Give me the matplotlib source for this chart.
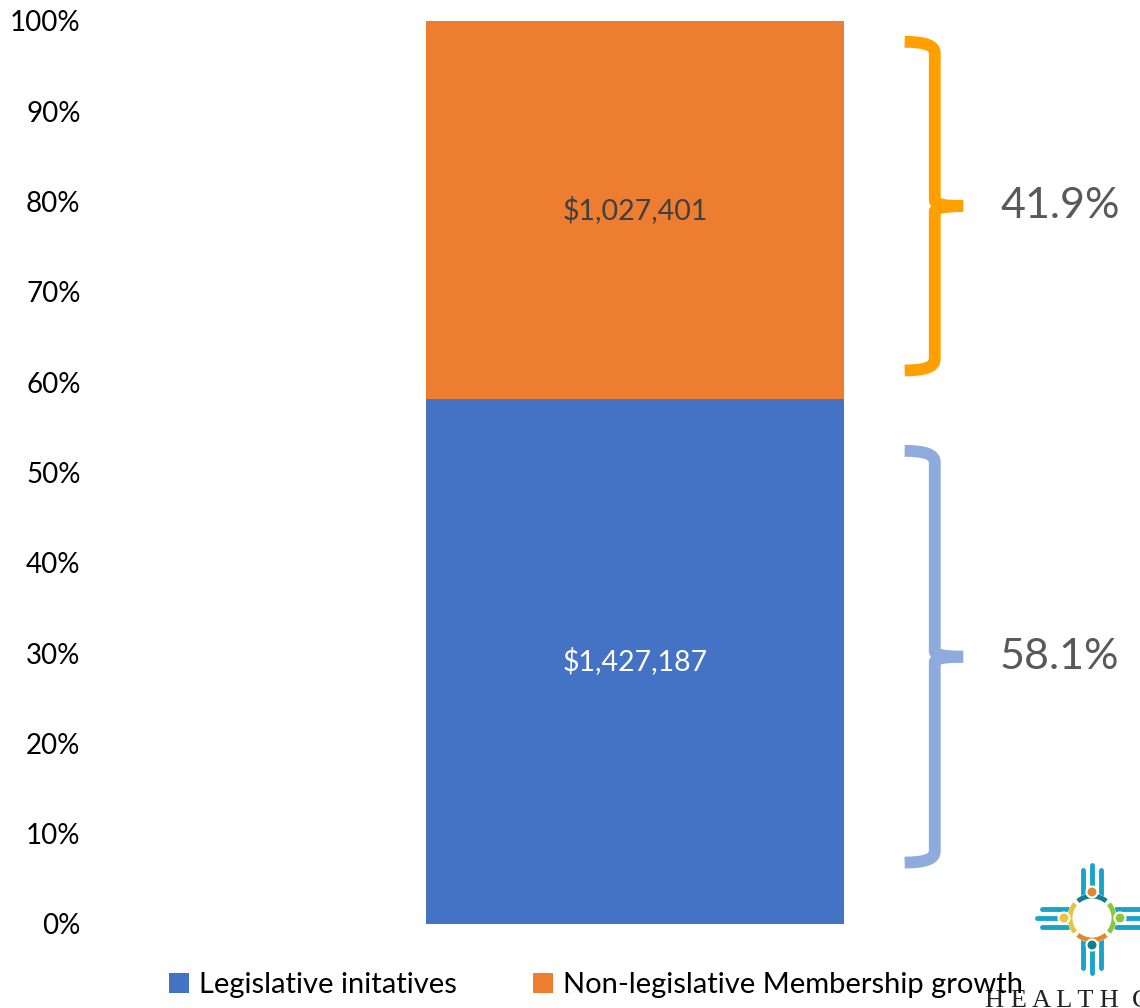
import matplotlib.pyplot as plt
from matplotlib.path import Path
from matplotlib.patches import PathPatch, Circle, Arc
from matplotlib.ticker import PercentFormatter

plt.rcParams['font.family'] = ['Lato', 'DejaVu Sans']

# data
series_names = ['Legislative initatives', 'Non-legislative Membership growth']
amounts = [1427187, 1027401]
colors = ['#4472C4', '#ED7D31']
label_colors = ['white', '#404040']
# brace spans in % (annotation helpers)
brace_spans = [(6.8, 52.4), (61.3, 97.7)]
brace_colors = ['#8FAADC', '#FFA000']

total = sum(amounts)
shares = [a / total * 100 for a in amounts]

W, H = 1140, 1008
fig = plt.figure(figsize=(W / 100, H / 100), dpi=100)
ax = fig.add_axes([100 / W, (H - 924) / H, 1040 / W, 903 / H])

bottom = 0
for name, s, c, lc, a in zip(series_names, shares, colors, label_colors, amounts):
    ax.bar(0, s, width=1.0, bottom=bottom, color=c, label=name)
    ax.text(0, bottom + s / 2, '${:,}'.format(a), ha='center', va='center',
            fontsize=20.5, color=lc)
    bottom += s

ax.set_xlim(-1.28, 1.208)
ax.set_ylim(0, 100)
ax.set_yticks(range(0, 101, 10))
ax.yaxis.set_major_formatter(PercentFormatter(decimals=0))
ax.tick_params(axis='y', length=0, pad=14, labelsize=20, labelcolor='black')
ax.set_xticks([])
for sp in ax.spines.values():
    sp.set_visible(False)


# braces: x in axes-data, y in percent
def brace(y0, y1, color):
    xv = 0.717   # vertical line
    xe = 0.645   # hook ends
    xt = 0.785   # middle tip
    ym = (y0 + y1) / 2
    r = 1.2
    codes = [Path.MOVETO, Path.CURVE3, Path.CURVE3, Path.LINETO,
             Path.CURVE3, Path.CURVE3]
    for yend, sgn in ((y1, -1), (y0, 1)):
        verts = [(xe, yend), (xv, yend), (xv, yend + sgn * r),
                 (xv, ym - sgn * 0.6), (xv, ym), (xt, ym)]
        ax.add_patch(PathPatch(Path(verts, codes), fill=False, color=color,
                               lw=8.5, capstyle='butt', joinstyle='round',
                               clip_on=False))
    return ym


for (y0, y1), bc, s in zip(brace_spans, brace_colors, shares):
    ym = brace(y0, y1, bc)
    ax.text(0.873, ym, '{:.1f}%'.format(s), ha='left', va='center',
            fontsize=31, color='#595959', clip_on=False)

leg = fig.legend(loc='center', bbox_to_anchor=(596 / W, 1 - 985 / H), ncol=2,
                 frameon=False, fontsize=21, handlelength=0.7, handleheight=0.7,
                 handletextpad=0.35, columnspacing=2.6)

# logo (simplified) in pixel coordinates
lax = fig.add_axes([1030 / W, 1 - 1008 / H, 120 / W, 150 / H])
lax.set_xlim(1030, 1150)
lax.set_ylim(1008, 858)
lax.set_aspect('equal')
lax.axis('off')
teal = '#18A4C6'
cx, cy = 1092, 918
for d in (-9, 0, 9):
    L = 0 if d == 0 else 5
    lax.plot([cx + d, cx + d], [865 + L, 897], color=teal, lw=3.5, solid_capstyle='round')
    lax.plot([cx + d, cx + d], [940, 973 - L], color=teal, lw=3.5, solid_capstyle='round')
    lax.plot([1037 + L, 1068], [cy + d, cy + d], color=teal, lw=3.5, solid_capstyle='round')
    lax.plot([1116, 1150], [cy + d, cy + d], color=teal, lw=3.5, solid_capstyle='round')
lax.add_patch(Circle((cx, cy), 24, color='white', zorder=3))
for t1, t2, c in [(50, 130, '#E08A2C'), (140, 220, '#E9C440'),
                  (320, 40, '#8CC63F'), (230, 310, '#137E8C')]:
    lax.add_patch(Arc((cx, cy), 44, 44, theta1=t1, theta2=t2, color=c, lw=3.5, zorder=4))
for (px, py), c in [((cx, 892), '#E08A2C'), ((1064, cy), '#E9C440'),
                    ((1120, cy), '#8CC63F'), ((cx, 945), '#137E8C')]:
    lax.add_patch(Circle((px, py), 5.5, color=c, zorder=5, ec='white', lw=1.5))
fig.text(985 / W, 1 - 1007 / H, 'H E A L T H  C', family='Liberation Serif',
         fontsize=19, color='#222222', ha='left', va='baseline')

fig.savefig('out.png', dpi=100)
